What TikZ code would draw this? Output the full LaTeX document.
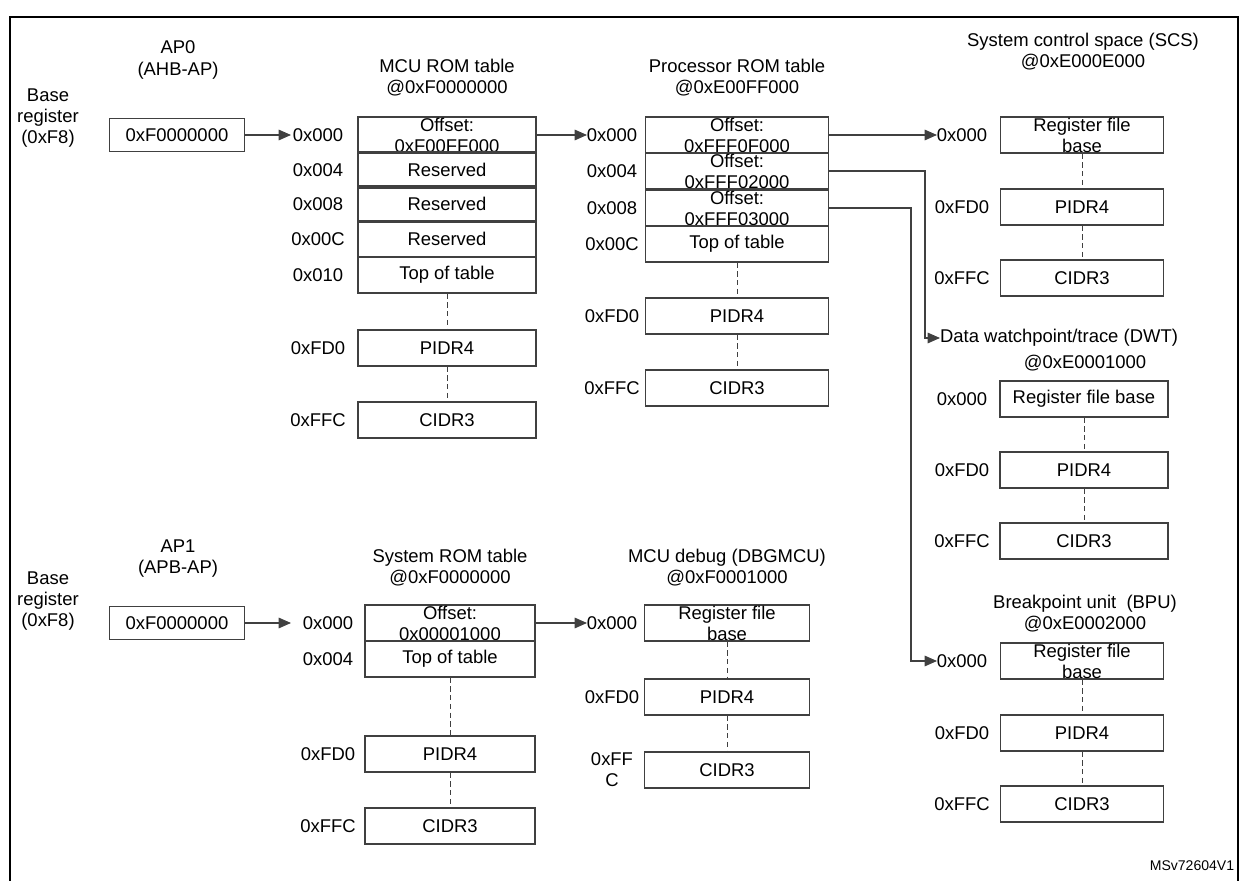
\documentclass[tikz,border=0pt]{standalone}
\usepackage{fontspec}
\setmainfont{Liberation Sans}
\tikzset{
  cell/.style={draw, semithick, draw=black!75, inner sep=0pt, align=center},
  addr/.style={anchor=center},
  ttl/.style={align=center},
  arr/.style={-{Triangle[length=7pt,width=6pt]}, semithick, draw=black!75},
  gap/.style={densely dashed, draw=black!75},
}
\usetikzlibrary{arrows.meta}
\begin{document}
\begin{tikzpicture}[font=\fontsize{10.5}{12}\selectfont, x=0.02cm, y=-0.02cm]
\useasboundingbox (0,0) rectangle (1242,881);
\draw[thick] (10,881) -- (10,17) -- (1238,17) -- (1238,881);

% access ports
\node[ttl] (ap0) at (178,60) {AP0\\(AHB-AP)};
\node[ttl] (br0) at (48,118) {Base\\register\\(0xF8)};
\node[cell, minimum width=2.7cm, minimum height=0.66cm] (b0) at (177,135) {0xF0000000};
\node[ttl] (ap1) at (178,559) {AP1\\(APB-AP)};
\node[ttl] (br1) at (48,601) {Base\\register\\(0xF8)};
\node[cell, minimum width=2.7cm, minimum height=0.66cm] (b1) at (177,623) {0xF0000000};

% MCU ROM table
\node[ttl] (tmcu) at (447,78) {MCU ROM table\\@0xF0000000};
\begin{scope}[every node/.style={cell, minimum width=3.56cm, minimum height=0.72cm}]
\node (m0) at (447,135) {Offset:\\0xF00FF000};
\node (m1) at (447,170) {Reserved};
\node (m2) at (447,204) {Reserved};
\node (m3) at (447,239) {Reserved};
\node (m4) at (447,275) {Top of table};
\node (m5) at (447,348) {PIDR4};
\node (m6) at (447,420) {CIDR3};
\end{scope}
\foreach \a/\y in {0x000/135,0x004/170,0x008/204,0x00C/239,0x010/275,0xFD0/348,0xFFC/420}
  \node[addr] at (318,\y) {\a};
\draw[gap] (m4) -- (m5);
\draw[gap] (m5) -- (m6);

% Processor ROM table
\node[ttl] (tproc) at (737,78) {Processor ROM table\\@0xE00FF000};
\begin{scope}[every node/.style={cell, minimum width=3.66cm, minimum height=0.72cm}]
\node (p0) at (737,135) {Offset:\\0xFFF0F000};
\node (p1) at (737,171) {Offset:\\0xFFF02000};
\node (p2) at (737,208) {Offset:\\0xFFF03000};
\node (p3) at (737,244) {Top of table};
\node (p4) at (737,316) {PIDR4};
\node (p5) at (737,388) {CIDR3};
\end{scope}
\foreach \a/\y in {0x000/135,0x004/171,0x008/208,0x00C/244,0xFD0/316,0xFFC/388}
  \node[addr] at (612,\y) {\a};
\draw[gap] (p3) -- (p4);
\draw[gap] (p4) -- (p5);

% System control space
\node[ttl] (tscs) at (1083,52) {System control space (SCS)\\@0xE000E000};
\begin{scope}[every node/.style={cell, minimum width=3.26cm, minimum height=0.72cm}]
\node (s0) at (1082,135) {Register file\\base};
\node (s1) at (1082,207) {PIDR4};
\node (s2) at (1082,278) {CIDR3};
\end{scope}
\foreach \a/\y in {0x000/135,0xFD0/207,0xFFC/278}
  \node[addr] at (962,\y) {\a};
\draw[gap] (s0) -- (s1);
\draw[gap] (s1) -- (s2);

% DWT
\node[anchor=west, inner sep=1pt] (tdwt) at (938,338) {Data watchpoint/trace (DWT)};
\node (tdwt2) at (1085,363) {@0xE0001000};
\begin{scope}[every node/.style={cell, minimum width=3.36cm, minimum height=0.72cm}]
\node (d0) at (1084,399) {Register file base};
\node (d1) at (1084,470) {PIDR4};
\node (d2) at (1084,541) {CIDR3};
\end{scope}
\foreach \a/\y in {0x000/399,0xFD0/470,0xFFC/541}
  \node[addr] at (962,\y) {\a};
\draw[gap] (d0) -- (d1);
\draw[gap] (d1) -- (d2);

% BPU
\node[ttl] (tbpu) at (1085,614) {Breakpoint unit~ (BPU)\\@0xE0002000};
\begin{scope}[every node/.style={cell, minimum width=3.26cm, minimum height=0.72cm}]
\node (u0) at (1082,661) {Register file\\base};
\node (u1) at (1082,733) {PIDR4};
\node (u2) at (1082,804) {CIDR3};
\end{scope}
\foreach \a/\y in {0x000/661,0xFD0/733,0xFFC/804}
  \node[addr] at (962,\y) {\a};
\draw[gap] (u0) -- (u1);
\draw[gap] (u1) -- (u2);

% System ROM table
\node[ttl] (tsys) at (450,568) {System ROM table\\@0xF0000000};
\begin{scope}[every node/.style={cell, minimum width=3.4cm, minimum height=0.72cm}]
\node (y0) at (450,623) {Offset:\\0x00001000};
\node (y1) at (450,659) {Top of table};
\node (y2) at (450,754) {PIDR4};
\node (y3) at (450,826) {CIDR3};
\end{scope}
\foreach \a/\y in {0x000/623,0x004/659,0xFD0/754,0xFFC/826}
  \node[addr] at (328,\y) {\a};
\draw[gap] (y1) -- (y2);
\draw[gap] (y2) -- (y3);

% MCU debug
\node[ttl] (tdbg) at (727,568) {MCU debug (DBGMCU)\\@0xF0001000};
\begin{scope}[every node/.style={cell, minimum width=3.3cm, minimum height=0.72cm}]
\node (g0) at (727,623) {Register file\\base};
\node (g1) at (727,697) {PIDR4};
\node (g2) at (727,770) {CIDR3};
\end{scope}
\foreach \a/\y in {0x000/623,0xFD0/697}
  \node[addr] at (612,\y) {\a};
\node[ttl] at (612,770) {0xFF\\C};
\draw[gap] (g0) -- (g1);
\draw[gap] (g1) -- (g2);

% links
\coordinate (m0in) at (291,135);
\coordinate (p0in) at (587,135);
\coordinate (s0in) at (937,135);
\coordinate (d0in) at (940,338);
\coordinate (u0in) at (937,661);
\coordinate (y0in) at (291,623);
\coordinate (g0in) at (587,623);
\draw[arr] (b0.east) -- (m0in);
\draw[arr] (m0.east) -- (p0in);
\draw[arr] (p0.east) -- (s0in);
\draw[arr] (p1.east) -- (925,171) -- (925,338) -- (d0in);
\draw[arr] (p2.east) -- (911,208) -- (911,661) -- (u0in);
\draw[arr] (b1.east) -- (y0in);
\draw[arr] (y0.east) -- (g0in);

\node[font=\fontsize{8}{9}\selectfont] (ref) at (1192,866) {MSv72604V1};
\end{tikzpicture}
\end{document}
